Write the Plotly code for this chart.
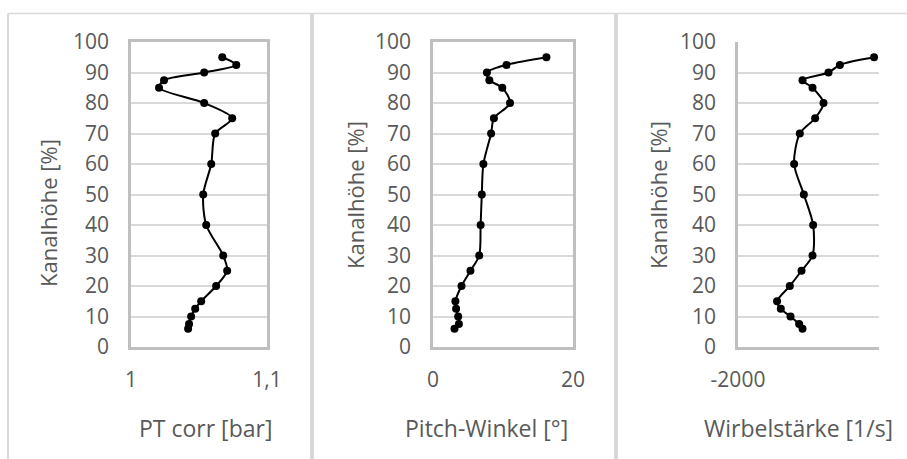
import plotly.graph_objects as go

W, H = 907, 459

# Data
kanalhoehe = [95, 92.5, 90, 87.5, 85, 80, 75, 70, 60, 50, 40, 30, 25, 20, 15, 12.5, 10, 7.5, 6]
pt_corr = [1.0671, 1.0774, 1.0538, 1.0243, 1.0206, 1.0538, 1.0744, 1.0619, 1.0590, 1.0531,
           1.0553, 1.0678, 1.0707, 1.0626, 1.0516, 1.0472, 1.0442, 1.0427, 1.0420]
pitch = [16.2, 10.5, 7.7, 8.05, 9.9, 11.0, 8.7, 8.3, 7.2, 6.97, 6.8, 6.6, 5.35, 4.07,
         3.2, 3.3, 3.6, 3.7, 3.07]
wirbel = [-70, -555, -716, -1085, -943, -787, -906, -1123, -1204, -1066, -934, -943,
          -1099, -1265, -1446, -1393, -1255, -1133, -1085]

y_ticks = list(range(0, 101, 10))
x1_ticks, x1_text = [1, 1.1], ["1", "1,1"]
x2_ticks, x2_text = [0, 20], ["0", "20"]
x3_ticks, x3_text = [-2000], ["-2000"]

ytitle = "Kanalhöhe [%]"
xtitles = ["PT corr [bar]", "Pitch-Winkel [°]", "Wirbelstärke [1/s]"]

FONT = "Open Sans"
GRAY = "#595959"
GRID = "#d9d9d9"
AXC = "#bfbfbf"

def px(x):
    return x / W

def py(y):
    return (H - y) / H

fig = go.Figure()
for i, xs in enumerate([pt_corr, pitch, wirbel]):
    n = "" if i == 0 else str(i + 1)
    fig.add_trace(go.Scatter(
        x=xs, y=kanalhoehe, xaxis="x" + n, yaxis="y" + n,
        mode="lines+markers",
        line=dict(color="black", width=2, shape="spline", smoothing=0.8),
        marker=dict(color="black", size=8),
        showlegend=False, hoverinfo="skip", cliponaxis=False,
    ))

ybot, ytop = py(347), py(42)
doms = [(131, 267), (433, 573), (738, 879)]
xranges = [[1, 1.1], [0, 20], [-2000, 0]]
xt = [(x1_ticks, x1_text), (x2_ticks, x2_text), (x3_ticks, x3_text)]

layout = dict(
    width=W, height=H, margin=dict(l=0, r=0, t=0, b=0, autoexpand=False),
    paper_bgcolor="white", plot_bgcolor="white",
    font=dict(family=FONT, size=21, color=GRAY),
)
for i in range(3):
    n = "" if i == 0 else str(i + 1)
    layout["xaxis" + n] = dict(
        domain=[px(doms[i][0]), px(doms[i][1])], range=xranges[i], automargin=False,
        anchor="y" + n, tickvals=xt[i][0], ticktext=xt[i][1],
        showgrid=False, zeroline=False, showline=True, linecolor=AXC, linewidth=2.5,
        mirror=(i < 2), ticks="", ticklabelstandoff=12,
        tickfont=dict(family=FONT, size=21, color=GRAY),
    )
    layout["yaxis" + n] = dict(
        domain=[ybot, ytop], range=[0, 100], anchor="x" + n, automargin=False,
        tickvals=y_ticks, showgrid=True, gridcolor=GRID, gridwidth=2,
        zeroline=False, showline=True, linecolor=AXC, linewidth=2.5,
        mirror=(i < 2), ticks="", ticklabelstandoff=15,
        tickfont=dict(family=FONT, size=21, color=GRAY),
    )
fig.update_layout(**layout)

# Panel borders / separators
shapes = [
    dict(type="line", xref="paper", yref="paper", x0=px(8), x1=1, y0=py(13.5), y1=py(13.5),
         line=dict(color=GRID, width=1.5)),
    dict(type="line", xref="paper", yref="paper", x0=px(8), x1=px(8), y0=0, y1=py(13.5),
         line=dict(color=GRID, width=2)),
    dict(type="line", xref="paper", yref="paper", x0=px(312), x1=px(312), y0=0, y1=py(13.5),
         line=dict(color=GRID, width=4)),
    dict(type="line", xref="paper", yref="paper", x0=px(616), x1=px(616), y0=0, y1=py(13.5),
         line=dict(color=GRID, width=4)),
]
fig.update_layout(shapes=shapes)

ann = []
ytitle_pos = [(48, 213), (355, 195), (658, 195)]
xtitle_pos = [(205, 428), (486, 428), (798, 428)]
for i in range(3):
    ann.append(dict(text=ytitle, xref="paper", yref="paper",
                    x=px(ytitle_pos[i][0]), y=py(ytitle_pos[i][1]),
                    xanchor="center", yanchor="middle", textangle=-90, showarrow=False,
                    font=dict(family=FONT, size=22, color=GRAY)))
    ann.append(dict(text=xtitles[i], xref="paper", yref="paper",
                    x=px(xtitle_pos[i][0]), y=py(xtitle_pos[i][1]),
                    xanchor="center", yanchor="middle", showarrow=False,
                    font=dict(family=FONT, size=23, color=GRAY)))
fig.update_layout(annotations=ann)

fig.write_html("out.html")
